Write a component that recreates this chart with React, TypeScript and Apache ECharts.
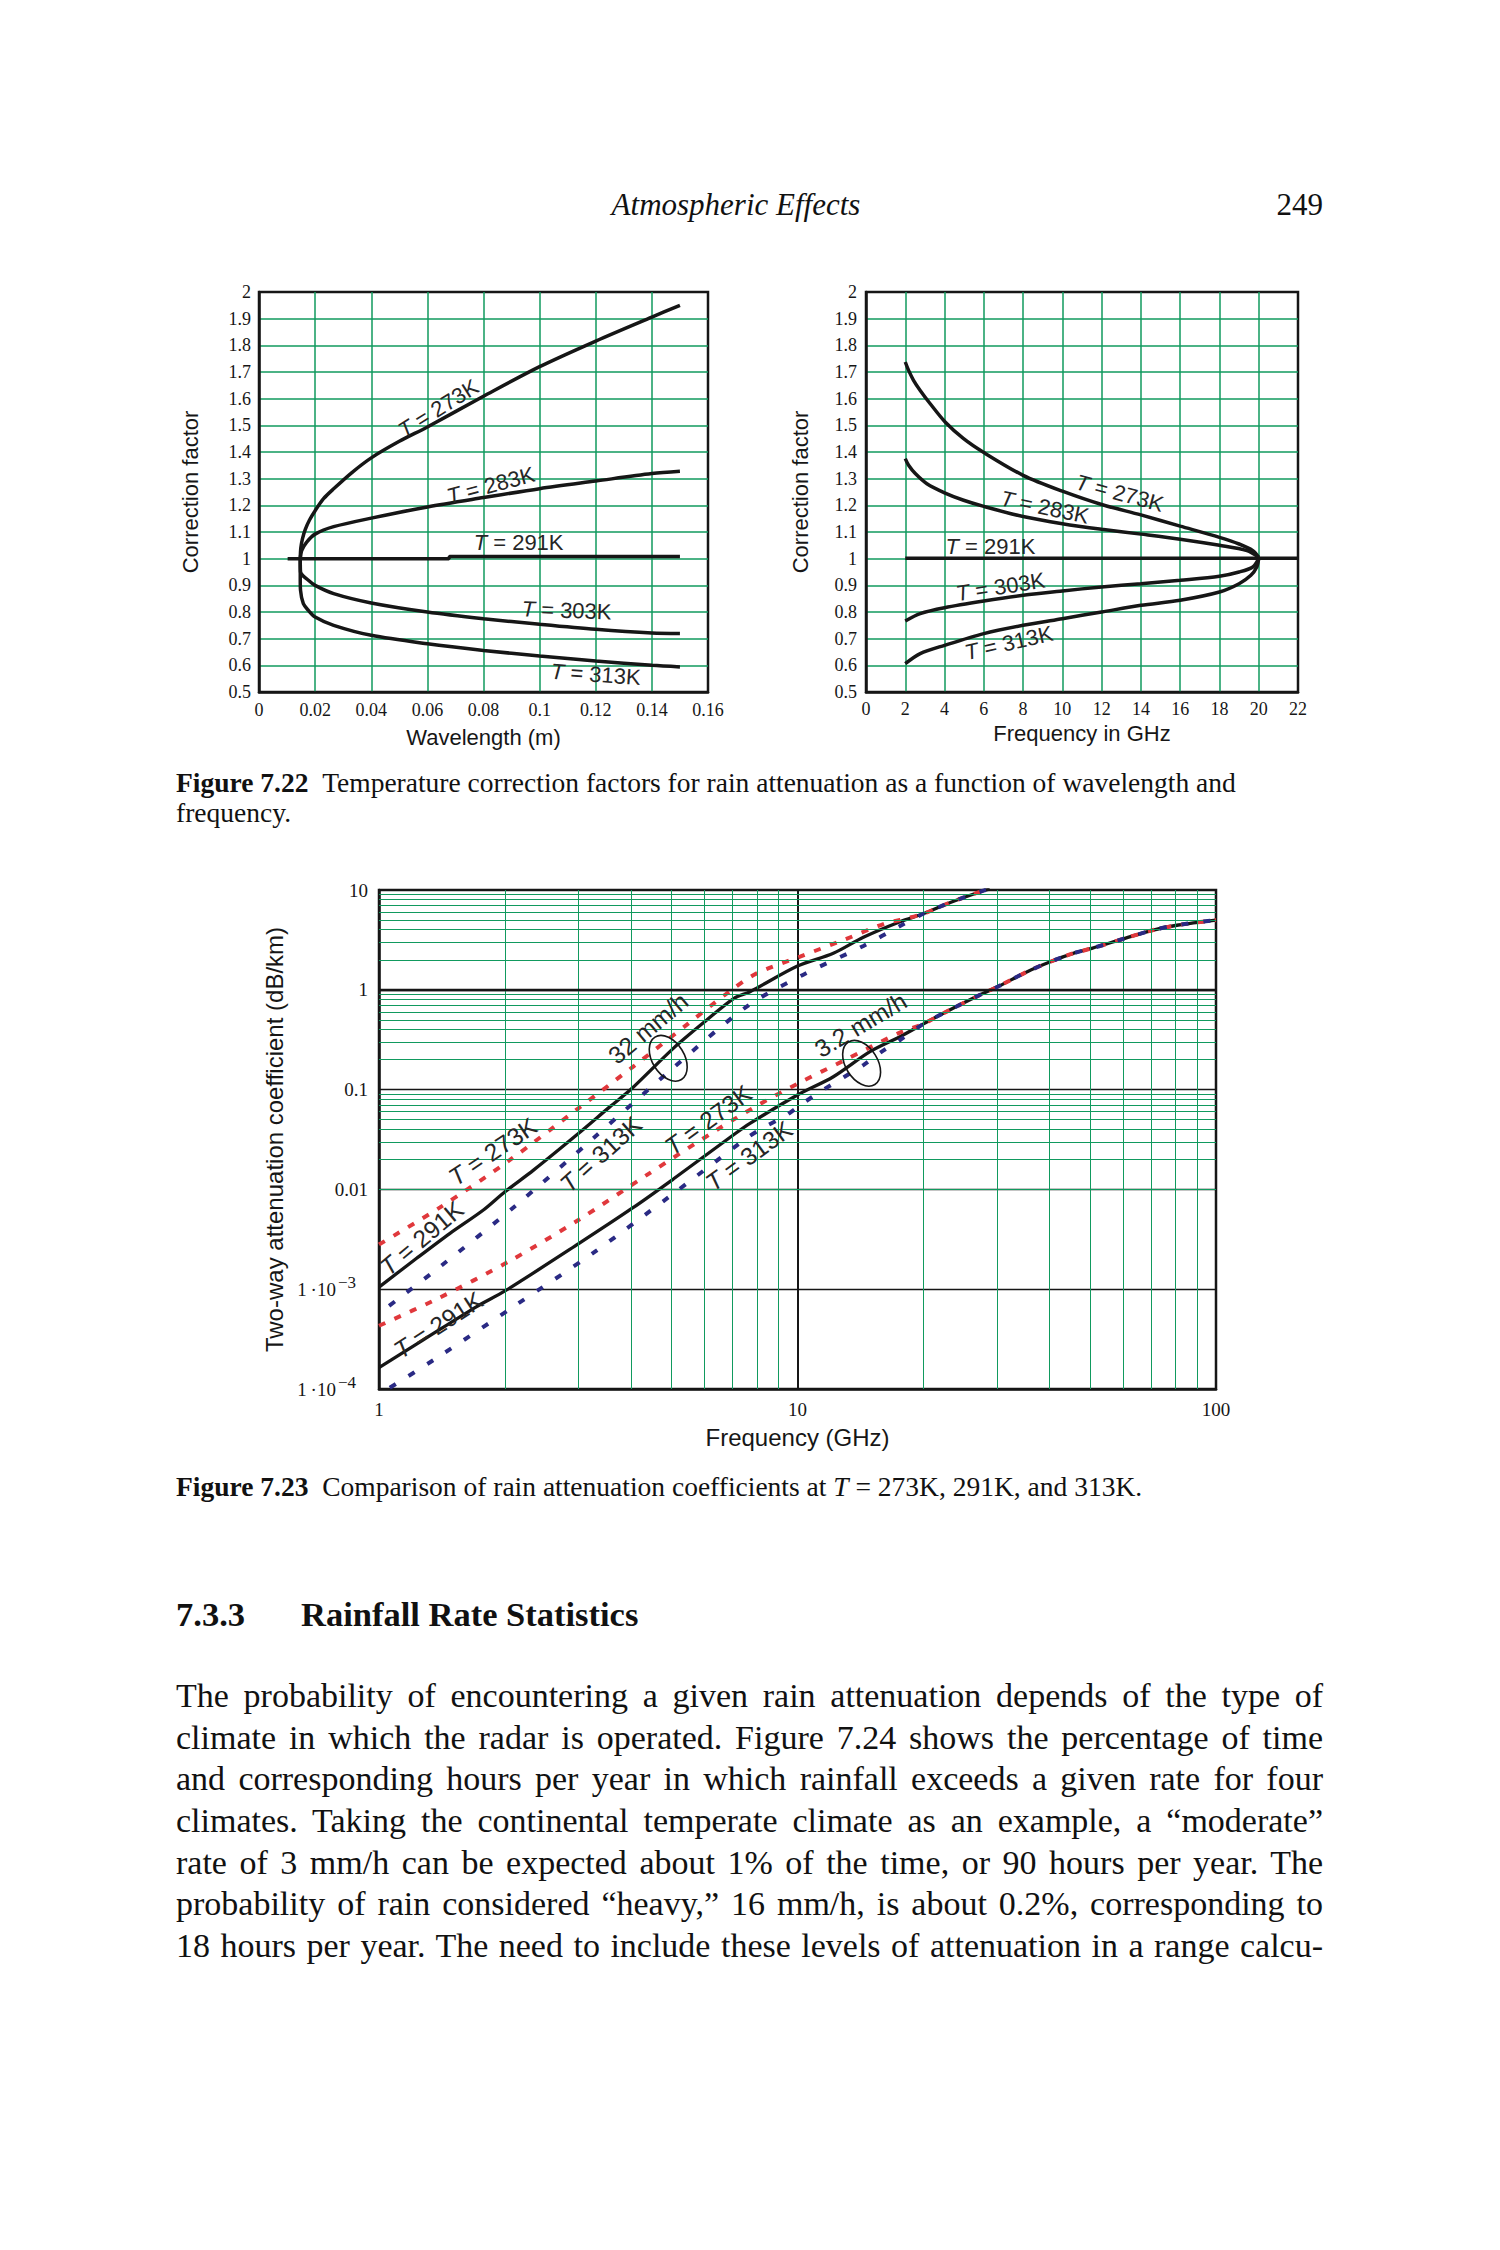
import React, { useEffect, useRef } from "react";
import * as echarts from "echarts";

const GREEN = "#119a5e";
const INK = "#161616";
const SANS = '"Liberation Sans", Arial, sans-serif';
const SERIF = '"Liberation Serif", "Times New Roman", serif';
const RED = "#e0383c";
const BLUE = "#2a2a84";

// ---------- Figure 7.22 (left): correction factor vs wavelength (m)
const wl273 = [[0.0147, 1.0], [0.0149, 1.04], [0.0155, 1.075], [0.0165, 1.11], [0.018, 1.145], [0.02, 1.18], [0.023, 1.225], [0.0266, 1.262], [0.033, 1.322], [0.04, 1.378], [0.05, 1.44], [0.06, 1.494], [0.08, 1.609], [0.1, 1.72], [0.12, 1.816], [0.14, 1.906], [0.15, 1.95]];
const wl283 = [[0.0147, 1.0], [0.0152, 1.03], [0.017, 1.062], [0.02, 1.092], [0.0266, 1.12], [0.04, 1.152], [0.06, 1.194], [0.08, 1.229], [0.1, 1.2625], [0.12, 1.291], [0.14, 1.319], [0.15, 1.3275]];
const wl291 = [[0.0102, 1.0], [0.0677, 1.0], [0.0679, 1.008], [0.15, 1.008]];
const wl303 = [[0.0147, 1.0], [0.0148, 0.95], [0.0176, 0.919], [0.02, 0.9], [0.0266, 0.869], [0.04, 0.834], [0.06, 0.8], [0.08, 0.775], [0.1, 0.754], [0.12, 0.735], [0.14, 0.721], [0.15, 0.719]];
const wl313 = [[0.0147, 1.0], [0.0147, 0.92], [0.0148, 0.881], [0.0158, 0.831], [0.0176, 0.806], [0.02, 0.781], [0.0266, 0.75], [0.04, 0.7125], [0.06, 0.681], [0.08, 0.656], [0.1, 0.635], [0.12, 0.616], [0.14, 0.6], [0.15, 0.594]];

// ---------- Figure 7.22 (right): correction factor vs frequency (GHz)
const fr273 = [[2, 1.7375], [2.17, 1.706], [2.42, 1.669], [2.76, 1.631], [3.27, 1.581], [4.03, 1.5125], [4.97, 1.45], [6, 1.398], [8, 1.3125], [10, 1.253], [12, 1.203], [14, 1.164], [16, 1.122], [18, 1.08], [19, 1.055], [19.7, 1.03], [20, 1.005]];
const fr283 = [[2, 1.375], [2.17, 1.35], [2.51, 1.319], [3.1, 1.281], [4.03, 1.246], [4.97, 1.219], [6, 1.196], [8, 1.158], [10, 1.131], [12, 1.11], [14, 1.092], [16, 1.073], [18, 1.05], [19.4, 1.03], [20, 1.005]];
const fr291 = [[2, 1.002], [22, 1.002]];
const fr303 = [[2, 0.766], [2.76, 0.794], [4, 0.816], [6, 0.841], [8, 0.8625], [10, 0.879], [12, 0.894], [14, 0.906], [16, 0.919], [18, 0.934], [19, 0.95], [19.7, 0.969], [20, 1.0]];
const fr313 = [[2, 0.606], [2.76, 0.644], [4, 0.675], [6, 0.719], [8, 0.75], [10, 0.775], [12, 0.8], [14, 0.825], [16, 0.844], [18, 0.875], [19, 0.906], [19.6, 0.9375], [19.9, 0.969], [20, 1.0]];

// ---------- Figure 7.23: two-way attenuation (dB/km) vs frequency (GHz)
const att32_273 = [[1, 2.8e-3], [1.399, 6.6e-3], [2.04, 0.0193], [2.995, 0.0649], [4.05, 0.17], [5.49, 0.461], [6.9, 0.972], [7.99, 1.46], [10.14, 2.15], [12.99, 3.2], [16.2, 4.63], [17.58, 5.0]];
const att32_291 = [[1, 1.05e-3], [1.23, 2.04e-3], [1.478, 3.63e-3], [1.776, 6.22e-3], [2, 9.48e-3], [2.34, 0.0156], [3, 0.0365], [3.565, 0.0675], [4, 0.1007], [5.05, 0.259], [6.07, 0.498], [7.05, 0.822], [7.7, 0.957], [10, 1.73], [12.18, 2.32], [14.37, 3.36], [17.58, 4.81]];
const att32_313 = [[1, 5.7e-4], [1.399, 1.68e-3], [2.13, 6.98e-3], [3.25, 0.0325], [4.96, 0.155], [7.56, 0.678], [10.3, 1.41], [14.37, 2.75], [17.58, 4.36]];
const att32_common = [[20.1, 5.84], [23.1, 7.46], [27.8, 9.84], [28.8, 10.2]];

const att3_273 = [[1, 4.3e-4], [1.386, 8.1e-4], [2.04, 1.89e-3], [2.995, 4.93e-3], [4.36, 0.0139], [6.41, 0.0394], [8.06, 0.0701], [10.1, 0.117], [12.9, 0.195], [17.4, 0.366]];
const att3_291 = [[1, 1.64e-4], [1.276, 3.11e-4], [1.712, 6.7e-4], [2, 9.6e-4], [3, 2.86e-3], [4.02, 6.44e-3], [5.05, 0.0127], [7.05, 0.0355], [7.7, 0.0459], [10, 0.0883], [12.18, 0.1346], [14.9, 0.24], [17.58, 0.339]];
const att3_313 = [[1, 8.8e-5], [1.399, 2.15e-4], [2.13, 7.0e-4], [3.25, 2.31e-3], [4.98, 8.67e-3], [7.56, 0.0326], [8.36, 0.0425], [9.34, 0.0543], [10.3, 0.073], [11.5, 0.099], [12.9, 0.133], [14.37, 0.176], [15.9, 0.24], [17.58, 0.314]];
const att3_common = [[20.1, 0.461], [23.1, 0.628], [27.8, 0.922], [30.3, 1.09], [35.4, 1.52], [40.2, 1.91], [45.6, 2.32], [50.5, 2.6], [60.6, 3.28], [70.8, 3.97], [81.3, 4.46], [100, 5.0]];

// ---------- tick labels
const wlTickLabels = ["0", "0.02", "0.04", "0.06", "0.08", "0.1", "0.12", "0.14", "0.16"];
const cfTickLabels = ["0.5", "0.6", "0.7", "0.8", "0.9", "1", "1.1", "1.2", "1.3", "1.4", "1.5", "1.6", "1.7", "1.8", "1.9", "2"];
const ghzTickLabels = ["0", "2", "4", "6", "8", "10", "12", "14", "16", "18", "20", "22"];
const logFreqTickLabels = ["1", "10", "100"]; // exponents 0..2
const logAttTickLabels = ["1\u2009\u00b710{s|\u22124}", "1\u2009\u00b710{s|\u22123}", "0.01", "0.1", "1", "10"]; // exponents -4..1

// ---------- log grid minor multipliers
const minorMultipliers = [2, 3, 4, 5, 6, 7, 8, 9];
const freqDecades = [1, 10];
const attDecades = [1e-4, 1e-3, 0.01, 0.1, 1];

// ---------- annotations (data coordinates)
const wlLabels = [
  { text: "273K", x: 0.0639, y: 1.563, rot: 32 },
  { text: "283K", x: 0.0826, y: 1.275, rot: 15 },
  { text: "291K", x: 0.0925, y: 1.0625, rot: 0 },
  { text: "303K", x: 0.1096, y: 0.806, rot: -2 },
  { text: "313K", x: 0.12, y: 0.566, rot: -4 },
];
const frLabels = [
  { text: "273K", x: 12.92, y: 1.246, rot: -15 },
  { text: "283K", x: 9.1, y: 1.193, rot: -12 },
  { text: "291K", x: 6.34, y: 1.046, rot: 0 },
  { text: "303K", x: 6.85, y: 0.894, rot: 9 },
  { text: "313K", x: 7.27, y: 0.684, rot: 13 },
];
const attLabels = [
  { text: "{it|T} = 291K", x: 1.265, y: 3.24e-3, rot: 40 },
  { text: "{it|T} = 273K", x: 1.87, y: 0.0239, rot: 34 },
  { text: "{it|T} = 313K", x: 3.39, y: 0.0225, rot: 42 },
  { text: "{it|T} = 291K", x: 1.386, y: 4.38e-4, rot: 33 },
  { text: "{it|T} = 273K", x: 6.12, y: 0.0496, rot: 36 },
  { text: "{it|T} = 313K", x: 7.66, y: 0.0216, rot: 36 },
  { text: "32 mm/h", x: 4.4, y: 0.411, rot: 40 },
  { text: "3.2 mm/h", x: 14.16, y: 0.4436, rot: 31 },
];
const rainEllipses = [{ x: 4.91, y: 0.206 }, { x: 14.23, y: 0.1835 }];

// ---------- page text
const bodyLines = [
  "The probability of encountering a given rain attenuation depends of the type of",
  "climate in which the radar is operated. Figure 7.24 shows the percentage of time",
  "and corresponding hours per year in which rainfall exceeds a given rate for four",
  "climates. Taking the continental temperate climate as an example, a \u201cmoderate\u201d",
  "rate of 3 mm/h can be expected about 1% of the time, or 90 hours per year. The",
  "probability of rain considered \u201cheavy,\u201d 16 mm/h, is about 0.2%, corresponding to",
  "18 hours per year. The need to include these levels of attenuation in a range calcu-",
];

function curve(data: number[][], grid: number, o: any = {}) {
  return {
    type: "line",
    xAxisIndex: grid,
    yAxisIndex: grid,
    data,
    symbol: "none",
    showSymbol: false,
    silent: true,
    clip: true,
    smooth: o.smooth ?? 0.3,
    lineStyle: {
      color: o.color ?? INK,
      width: o.width ?? 3.5,
      type: o.dash ?? "solid",
      dashOffset: o.dashOffset ?? 0,
      cap: "butt",
    },
    z: o.z ?? 3,
  };
}

function linAxis(grid: number, min: number, max: number, interval: number, labels: string[], name: string, nameGap: number, margin: number) {
  return {
    gridIndex: grid,
    type: "value",
    min,
    max,
    interval,
    name,
    nameLocation: "middle",
    nameGap,
    nameTextStyle: { fontFamily: SANS, fontSize: 22, color: INK },
    axisLine: { show: true, onZero: false, lineStyle: { color: INK, width: 2.5 } },
    axisTick: { show: false },
    axisLabel: {
      fontFamily: SERIF,
      fontSize: 18,
      color: INK,
      margin,
      formatter: (v: number) => labels[Math.round((v - min) / interval)] ?? "",
    },
    splitLine: { show: true, showMinLine: false, showMaxLine: false, lineStyle: { color: GREEN, width: 1.5 } },
  };
}

function buildOption() {
  const minorX: any[] = [];
  freqDecades.forEach((d) => minorMultipliers.forEach((m) => minorX.push({ xAxis: d * m })));
  const minorY: any[] = [];
  attDecades.forEach((d) => minorMultipliers.forEach((m) => minorY.push({ yAxis: d * m })));

  return {
    animation: false,
    backgroundColor: "transparent",
    grid: [
      { left: 259, top: 292, width: 449, height: 400, show: true, borderColor: INK, borderWidth: 2.5 },
      { left: 866, top: 292, width: 432, height: 400, show: true, borderColor: INK, borderWidth: 2.5 },
      { left: 379, top: 890, width: 837, height: 499, show: true, borderColor: INK, borderWidth: 2.5 },
    ],
    xAxis: [
      linAxis(0, 0, 0.16, 0.02, wlTickLabels, "Wavelength (m)", 34, 9),
      linAxis(1, 0, 22, 2, ghzTickLabels, "Frequency in GHz", 30, 8),
      {
        gridIndex: 2,
        type: "log",
        logBase: 10,
        min: 1,
        max: 100,
        name: "Frequency (GHz)",
        nameLocation: "middle",
        nameGap: 36,
        nameTextStyle: { fontFamily: SANS, fontSize: 24, color: INK },
        axisLine: { show: true, onZero: false, lineStyle: { color: INK, width: 2.5 } },
        axisTick: { show: false },
        axisLabel: {
          fontFamily: SERIF,
          fontSize: 19,
          color: INK,
          margin: 11,
          formatter: (v: number) => logFreqTickLabels[Math.round(Math.log10(v))] ?? "",
        },
        splitLine: { show: true, showMinLine: false, showMaxLine: false, lineStyle: { color: INK, width: 2 } },
      },
    ],
    yAxis: [
      linAxis(0, 0.5, 2, 0.1, cfTickLabels, "Correction factor", 58, 8),
      linAxis(1, 0.5, 2, 0.1, cfTickLabels, "Correction factor", 55, 9),
      {
        gridIndex: 2,
        type: "log",
        logBase: 10,
        min: 1e-4,
        max: 10,
        name: "Two-way attenuation coefficient (dB/km)",
        nameLocation: "middle",
        nameGap: 87,
        nameTextStyle: { fontFamily: SANS, fontSize: 24, color: INK },
        axisLine: { show: true, onZero: false, lineStyle: { color: INK, width: 2.5 } },
        axisTick: { show: false },
        axisLabel: {
          fontFamily: SERIF,
          fontSize: 19,
          color: INK,
          margin: 11,
          formatter: (v: number) => logAttTickLabels[Math.round(Math.log10(v)) + 4] ?? "",
          rich: {
            s: { fontFamily: SERIF, fontSize: 17, color: INK, padding: [0, 12, 13, 2], verticalAlign: "bottom" },
          },
        },
        splitLine: { show: true, showMinLine: false, showMaxLine: false, lineStyle: { color: INK, width: 1.3 } },
      },
    ],
    series: [
      // log-paper minor grid
      {
        type: "line",
        xAxisIndex: 2,
        yAxisIndex: 2,
        data: [],
        silent: true,
        z: 1,
        markLine: {
          silent: true,
          symbol: ["none", "none"],
          label: { show: false },
          lineStyle: { color: GREEN, width: 1, type: "solid" },
          data: minorX.concat(minorY),
        },
      },
      {
        type: "line",
        xAxisIndex: 2,
        yAxisIndex: 2,
        data: [],
        silent: true,
        z: 2,
        markLine: {
          silent: true,
          symbol: ["none", "none"],
          label: { show: false },
          lineStyle: { color: INK, width: 2.4, type: "solid" },
          data: [{ yAxis: 1 }],
        },
      },
      // Fig 7.22 left
      curve(wl273, 0),
      curve(wl283, 0),
      curve(wl291, 0, { smooth: false }),
      curve(wl303, 0),
      curve(wl313, 0),
      // Fig 7.22 right
      curve(fr273, 1),
      curve(fr283, 1),
      curve(fr291, 1, { smooth: false }),
      curve(fr303, 1),
      curve(fr313, 1),
      // Fig 7.23
      curve(att32_291.concat(att32_common), 2, { width: 3.3, z: 3 }),
      curve(att3_291.concat(att3_common), 2, { width: 3.3, z: 3 }),
      curve(att32_273.concat(att32_common), 2, { color: RED, width: 4, dash: [7, 10], z: 4 }),
      curve(att3_273.concat(att3_common), 2, { color: RED, width: 4, dash: [7, 10], z: 4 }),
      curve(att32_313.concat(att32_common), 2, { color: BLUE, width: 4, dash: [7, 15], dashOffset: 9, z: 5 }),
      curve(att3_313.concat(att3_common), 2, { color: BLUE, width: 4, dash: [7, 15], dashOffset: 9, z: 5 }),
    ],
  };
}

function labelText(x: number, y: number, text: string, rotDeg: number, size: number) {
  return {
    type: "text",
    x,
    y,
    rotation: (rotDeg * Math.PI) / 180,
    silent: true,
    z: 20,
    style: {
      text,
      fontFamily: SANS,
      fontSize: size,
      fill: "#262626",
      align: "center",
      verticalAlign: "middle",
      rich: {
        it: { fontFamily: SANS, fontSize: size, fontStyle: "italic", fill: "#262626" },
      },
    },
  };
}

function buildGraphics(chart: any) {
  const g: any[] = [];
  wlLabels.forEach((l) => {
    const p = chart.convertToPixel({ gridIndex: 0 }, [l.x, l.y]);
    g.push(labelText(p[0], p[1], "{it|T} = " + l.text, l.rot, 22));
  });
  frLabels.forEach((l) => {
    const p = chart.convertToPixel({ gridIndex: 1 }, [l.x, l.y]);
    g.push(labelText(p[0], p[1], "{it|T} = " + l.text, l.rot, 22));
  });
  attLabels.forEach((l) => {
    const p = chart.convertToPixel({ gridIndex: 2 }, [l.x, l.y]);
    g.push(labelText(p[0], p[1], l.text, l.rot, 24.5));
  });
  rainEllipses.forEach((e) => {
    const p = chart.convertToPixel({ gridIndex: 2 }, [e.x, e.y]);
    g.push({
      type: "ellipse",
      x: p[0],
      y: p[1],
      rotation: (32 * Math.PI) / 180,
      silent: true,
      z: 20,
      shape: { cx: 0, cy: 0, rx: 16, ry: 25 },
      style: { fill: "none", stroke: INK, lineWidth: 1.6 },
    });
  });
  return g;
}

function TextLine(props: { x: number; base: number; size: number; width?: number; justify?: boolean; style?: any; children: any }) {
  const { x, base, size, width, justify, style, children } = props;
  return (
    <div
      style={{
        position: "absolute",
        left: x,
        top: base - 0.8375 * size,
        fontSize: size,
        lineHeight: `${size}px`,
        width,
        whiteSpace: justify ? "normal" : "nowrap",
        textAlign: justify ? "justify" : "left",
        textAlignLast: justify ? "justify" : "auto",
        ...style,
      }}
    >
      {children}
    </div>
  );
}

export default function App() {
  const ref = useRef<HTMLDivElement>(null);
  useEffect(() => {
    const chart = echarts.init(ref.current!, null, { renderer: "svg" });
    chart.setOption(buildOption() as any);
    chart.setOption({ graphic: buildGraphics(chart) } as any);
    return () => chart.dispose();
  }, []);

  const capSize = 27.5;
  const bodySize = 34;
  return (
    <div
      style={{
        position: "absolute",
        left: 0,
        top: 0,
        width: 1500,
        height: 2250,
        background: "#fff",
        fontFamily: SERIF,
        color: "#111",
        overflow: "hidden",
      }}
    >
      <div ref={ref} style={{ position: "absolute", left: 0, top: 0, width: 1500, height: 1480 }} />

      <TextLine x={736} base={215} size={31} style={{ fontStyle: "italic", transform: "translateX(-50%)" }}>
        Atmospheric Effects
      </TextLine>
      <TextLine x={1323} base={215} size={31} style={{ transform: "translateX(-100%)" }}>
        249
      </TextLine>

      <TextLine x={176} base={792} size={capSize}>
        <b>Figure 7.22</b>
        {"\u2002"}Temperature correction factors for rain attenuation as a function of wavelength and
      </TextLine>
      <TextLine x={176} base={822} size={capSize}>
        frequency.
      </TextLine>

      <TextLine x={176} base={1496} size={capSize}>
        <b>Figure 7.23</b>
        {"\u2002"}Comparison of rain attenuation coefficients at <i>T</i> = 273K, 291K, and 313K.
      </TextLine>

      <TextLine x={176} base={1626} size={34.5} style={{ fontWeight: "bold" }}>
        7.3.3
      </TextLine>
      <TextLine x={301} base={1626} size={34.5} style={{ fontWeight: "bold" }}>
        Rainfall Rate Statistics
      </TextLine>

      {bodyLines.map((line, i) => (
        <TextLine key={i} x={176} base={1707.5 + i * 41.67} size={bodySize} width={1147} justify>
          {line}
        </TextLine>
      ))}
    </div>
  );
}
